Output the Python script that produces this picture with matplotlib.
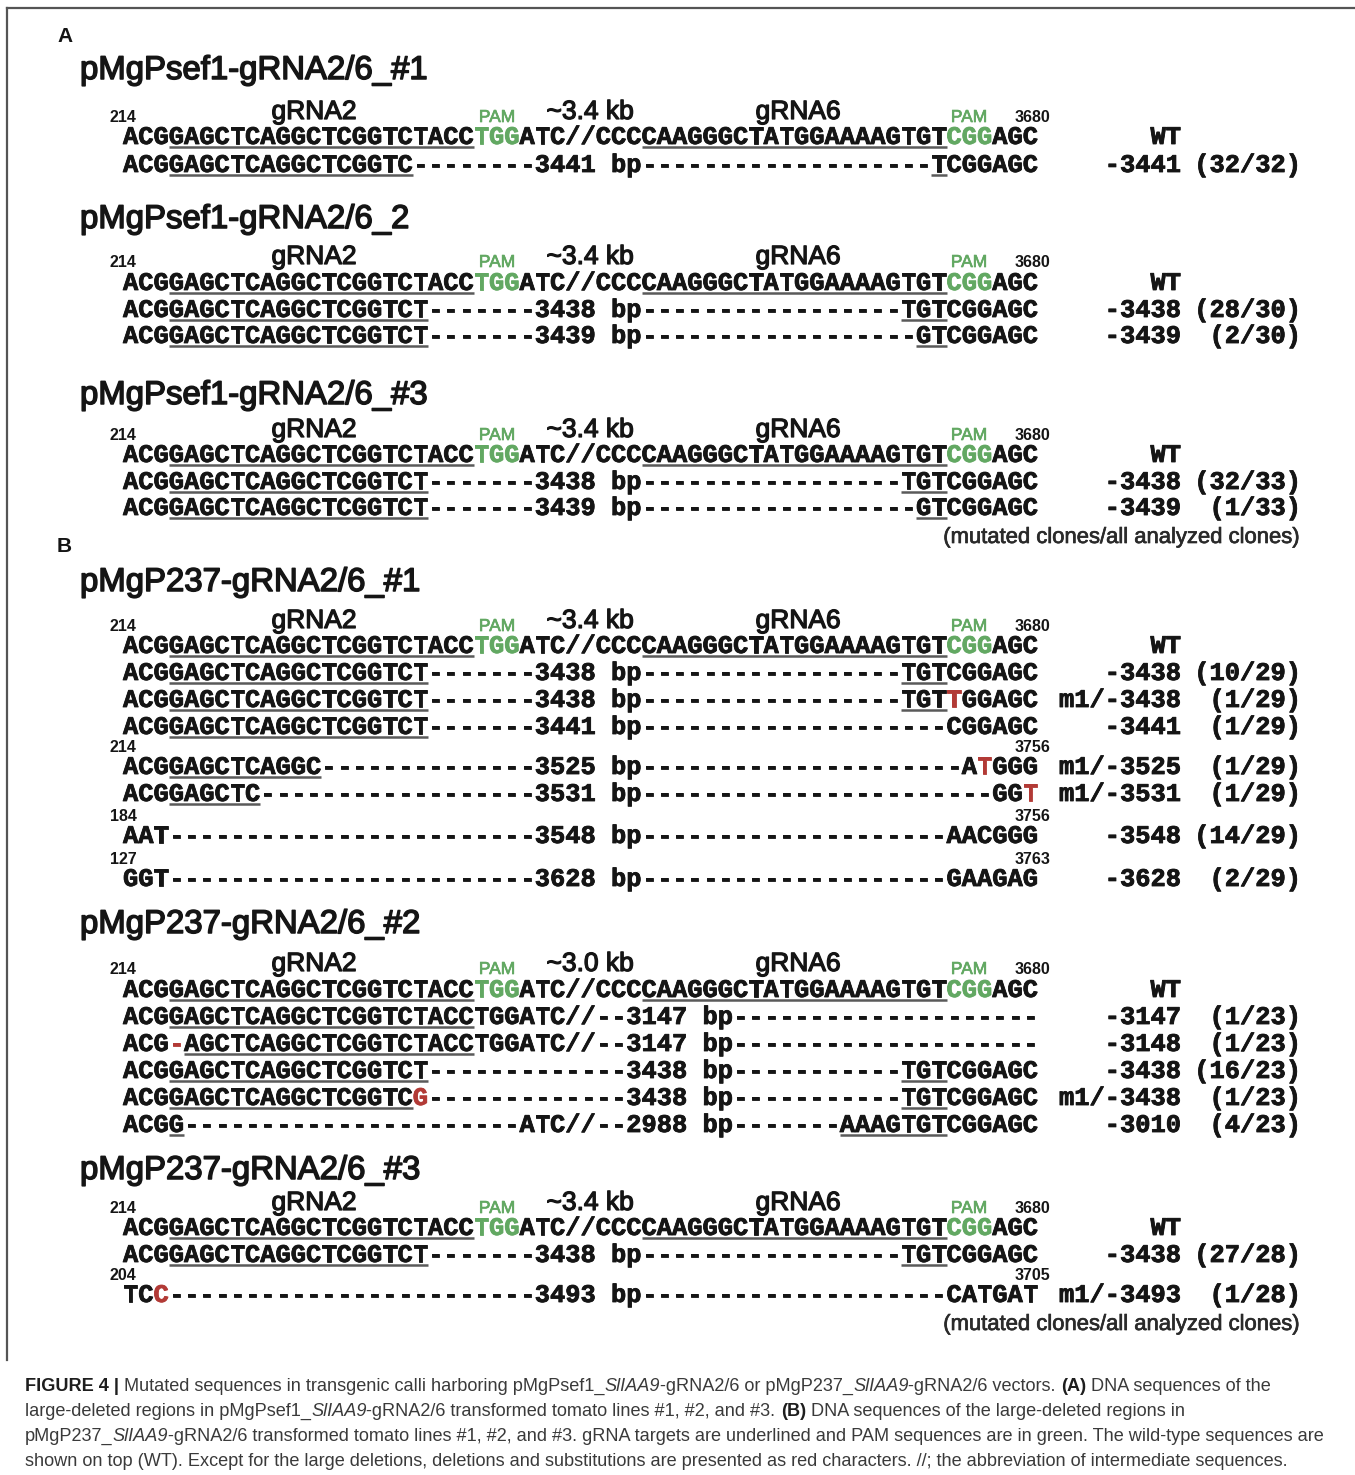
import matplotlib
matplotlib.use("Agg")
import matplotlib.pyplot as plt
import matplotlib.patheffects as pe
from matplotlib.font_manager import FontProperties, fontManager

# ---- sequences -------------------------------------------------------------
WT_SEQ = "ACGGAGCTCAGGCTCGGTCTACCTGGATC//CCCCAAGGGCTATGGAAAAGTGTCGGAGC"
WT_GREEN = [23, 24, 25, 54, 55, 56]
WT_UNDER = [(3, 23), (34, 54)]

DEL_3438 = "ACGGAGCTCAGGCTCGGTCT" + "-" * 7 + "3438 bp" + "-" * 17 + "TGTCGGAGC"
DEL_3439 = "ACGGAGCTCAGGCTCGGTCT" + "-" * 7 + "3439 bp" + "-" * 18 + "GTCGGAGC"

# each row: sequence, red positions, underlined ranges, label, clone ratio
A1_ROWS = [
    ("ACGGAGCTCAGGCTCGGTC" + "-" * 8 + "3441 bp" + "-" * 19 + "TCGGAGC", [], [(3, 19), (53, 54)], "-3441", "(32/32)"),
]
A2_ROWS = [
    (DEL_3438, [], [(3, 20), (51, 54)], "-3438", "(28/30)"),
    (DEL_3439, [], [(3, 20), (52, 54)], "-3439", "(2/30)"),
]
A3_ROWS = [
    (DEL_3438, [], [(3, 20), (51, 54)], "-3438", "(32/33)"),
    (DEL_3439, [], [(3, 20), (52, 54)], "-3439", "(1/33)"),
]
B1_ROWS = [
    (DEL_3438, [], [(3, 20), (51, 54)], "-3438", "(10/29)"),
    ("ACGGAGCTCAGGCTCGGTCT" + "-" * 7 + "3438 bp" + "-" * 17 + "TGTTGGAGC", [54], [(3, 20), (51, 54)], "m1/-3438", "(1/29)"),
    ("ACGGAGCTCAGGCTCGGTCT" + "-" * 7 + "3441 bp" + "-" * 20 + "CGGAGC", [], [(3, 20)], "-3441", "(1/29)"),
    ("ACGGAGCTCAGGC" + "-" * 14 + "3525 bp" + "-" * 21 + "ATGGG", [56], [(3, 13)], "m1/-3525", "(1/29)"),
    ("ACGGAGCTC" + "-" * 18 + "3531 bp" + "-" * 23 + "GGT", [59], [(3, 9)], "m1/-3531", "(1/29)"),
    ("AAT" + "-" * 24 + "3548 bp" + "-" * 20 + "AACGGG", [], [], "-3548", "(14/29)"),
    ("GGT" + "-" * 24 + "3628 bp" + "-" * 20 + "GAAGAG", [], [], "-3628", "(2/29)"),
]
B2_ROWS = [
    ("ACGGAGCTCAGGCTCGGTCTACCTGGATC//" + "--" + "3147 bp" + "-" * 20, [], [(3, 23)], "-3147", "(1/23)"),
    ("ACG-AGCTCAGGCTCGGTCTACCTGGATC//" + "--" + "3147 bp" + "-" * 20, [3], [(4, 23)], "-3148", "(1/23)"),
    ("ACGGAGCTCAGGCTCGGTCT" + "-" * 13 + "3438 bp" + "-" * 11 + "TGTCGGAGC", [], [(3, 20), (51, 54)], "-3438", "(16/23)"),
    ("ACGGAGCTCAGGCTCGGTCG" + "-" * 13 + "3438 bp" + "-" * 11 + "TGTCGGAGC", [19], [(3, 19), (51, 54)], "m1/-3438", "(1/23)"),
    ("ACGG" + "-" * 22 + "ATC//--2988 bp" + "-" * 7 + "AAAGTGTCGGAGC", [], [(3, 4), (47, 54)], "-3010", "(4/23)"),
]
B3_ROWS = [
    (DEL_3438, [], [(3, 20), (51, 54)], "-3438", "(27/28)"),
    ("TCC" + "-" * 24 + "3493 bp" + "-" * 20 + "CATGAT", [2], [], "m1/-3493", "(1/28)"),
]

# position numbers printed above some rows: (row index, left number, right number)
B1_POS = [(3, "214", "3756"), (5, "184", "3756"), (6, "127", "3763")]
B3_POS = [(1, "204", "3705")]

TITLES = ["pMgPsef1-gRNA2/6_#1", "pMgPsef1-gRNA2/6_2", "pMgPsef1-gRNA2/6_#3",
          "pMgP237-gRNA2/6_#1", "pMgP237-gRNA2/6_#2", "pMgP237-gRNA2/6_#3"]
SPANS = ["~3.4 kb", "~3.4 kb", "~3.4 kb", "~3.4 kb", "~3.0 kb", "~3.4 kb"]
ROWS = [A1_ROWS, A2_ROWS, A3_ROWS, B1_ROWS, B2_ROWS, B3_ROWS]
POS = [[], [], [], B1_POS, [], B3_POS]

# vertical layout (pixel centres): title, header, wild type, mutant rows
TITLE_Y = [68, 217, 393, 580, 922, 1168]
HEAD_Y = [110, 255, 428, 619, 962, 1201]
WT_Y = [137, 283, 455, 646, 990, 1228]
ROW_Y = [[165], [310, 336], [482, 508],
         [673, 700, 727, 767, 794, 836, 879],
         [1017, 1044, 1071, 1098, 1125],
         [1255, 1295]]

CAPTION = [
    [("FIGURE 4 |", "b"), (" Mutated sequences in transgenic calli harboring pMgPsef1_", "r"), ("SlIAA9", "i"),
     ("-gRNA2/6 or pMgP237_", "r"), ("SlIAA9", "i"), ("-gRNA2/6 vectors. ", "r"), ("(A)", "b"),
     (" DNA sequences of the", "r")],
    [("large-deleted regions in pMgPsef1_", "r"), ("SlIAA9", "i"),
     ("-gRNA2/6 transformed tomato lines #1, #2, and #3. ", "r"), ("(B)", "b"),
     (" DNA sequences of the large-deleted regions in", "r")],
    [("pMgP237_", "r"), ("SlIAA9", "i"),
     ("-gRNA2/6 transformed tomato lines #1, #2, and #3. gRNA targets are underlined and PAM sequences are in green. The wild-type sequences are", "r")],
    [("shown on top (WT). Except for the large deletions, deletions and substitutions are presented as red characters. //; the abbreviation of intermediate sequences.", "r")],
]
NOTE = "(mutated clones/all analyzed clones)"

# ---- style -------------------------------------------------------------------
INK = "#151515"
GREEN = "#62a862"
RED = "#b23a36"
ULINE = "#5a5a5a"
CAP_INK = "#3a3a3a"
X0 = 123.0          # left edge of the sequence column
CW = 15.25          # character pitch of the sequence font
SANS = "Liberation Sans"
MONO = FontProperties(family="Liberation Mono", weight="bold", size=18.3)


def heavy(color, w=0.8):
    return [pe.withStroke(linewidth=w, foreground=color)]


fig = plt.figure(figsize=(13.55, 14.75), dpi=100)
ax = fig.add_axes([0, 0, 1, 1])
ax.set_xlim(0, 1355)
ax.set_ylim(1475, 0)
ax.axis("off")
renderer = fig.canvas.get_renderer()


def width_of(s, prop):
    t = ax.text(0, 0, "|" + s + "|", fontproperties=prop)
    w1 = t.get_window_extent(renderer).width
    t.remove()
    t = ax.text(0, 0, "||", fontproperties=prop)
    w2 = t.get_window_extent(renderer).width
    t.remove()
    return w1 - w2


def seq_row(y, seq, red=(), green=(), under=()):
    base = y + 7
    for i, ch in enumerate(seq):
        col = RED if i in red else GREEN if i in green else INK
        ax.text(X0 + (i + 0.5) * CW, base, ch, ha="center", va="baseline",
                color=col, fontproperties=MONO, path_effects=heavy(col, 0.6))
    for a, b in under:
        ax.plot([X0 + a * CW, X0 + b * CW], [base + 3, base + 3], color=ULINE,
                lw=1.8, solid_capstyle="butt")


def side_labels(y, label, ratio):
    ax.text(1181, y + 7, label, ha="right", va="baseline", color=INK,
            fontproperties=MONO, path_effects=heavy(INK, 0.6))
    if ratio:
        ax.text(1301, y + 7, ratio, ha="right", va="baseline", color=INK,
                fontproperties=MONO, path_effects=heavy(INK, 0.6))


# frame lines
ax.plot([7, 1355], [8, 8], color="#555555", lw=1.6)
ax.plot([7, 7], [8, 1360], color="#555555", lw=1.6)

# panel letters
ax.text(57, 42, "A", fontsize=15, fontweight="bold", family=SANS, color=INK, va="baseline")
ax.text(57, 552, "B", fontsize=15, fontweight="bold", family=SANS, color=INK, va="baseline")

for k in range(6):
    ax.text(80, TITLE_Y[k] + 11, TITLES[k], fontsize=23.7, family=SANS, color=INK,
            va="baseline", path_effects=heavy(INK, 1.1))
    hb = HEAD_Y[k] + 9
    for x, s in [(314, "gRNA2"), (590, SPANS[k]), (798, "gRNA6")]:
        ax.text(x, hb, s, fontsize=19, family=SANS, color=INK, ha="center",
                va="baseline", path_effects=heavy(INK, 0.9))
    sb = HEAD_Y[k] + 12
    ax.text(497, sb, "PAM", fontsize=12.5, family=SANS, color=GREEN, ha="center",
            va="baseline", path_effects=heavy(GREEN, 0.5))
    ax.text(969, sb, "PAM", fontsize=12.5, family=SANS, color=GREEN, ha="center",
            va="baseline", path_effects=heavy(GREEN, 0.5))
    ax.text(110, sb, "214", fontsize=11.5, fontweight="bold", family=SANS, color=INK, va="baseline")
    ax.text(1050, sb, "3680", fontsize=11.5, fontweight="bold", family=SANS, color=INK,
            ha="right", va="baseline")

    seq_row(WT_Y[k], WT_SEQ, green=WT_GREEN, under=WT_UNDER)
    side_labels(WT_Y[k], "WT", "")
    for (seq, red, under, label, ratio), y in zip(ROWS[k], ROW_Y[k]):
        seq_row(y, seq, red=red, under=under)
        side_labels(y, label, ratio)
    for idx, left, right in POS[k]:
        yb = ROW_Y[k][idx] - 20 + 5
        ax.text(110, yb, left, fontsize=11.5, fontweight="bold", family=SANS, color=INK, va="baseline")
        ax.text(1050, yb, right, fontsize=11.5, fontweight="bold", family=SANS, color=INK,
                ha="right", va="baseline")

# footnotes under panels A and B
note_prop = FontProperties(family=SANS, size=18)
nsize = 18 * 356 / width_of(NOTE, note_prop)
for y in (535, 1322):
    ax.text(1298, y + 8, NOTE, fontsize=nsize, family=SANS, color="#2a2a2a",
            ha="right", va="baseline", path_effects=heavy("#2a2a2a", 0.5))

# caption
names = {f.name for f in fontManager.ttflist}
cap_family = "Liberation Sans Narrow" if "Liberation Sans Narrow" in names else SANS


def cap_prop(style, size):
    return FontProperties(family=cap_family, size=size,
                          weight="bold" if style == "b" else "normal",
                          style="italic" if style == "i" else "normal")


ref = sum(width_of(s, cap_prop(st, 10)) for s, st in CAPTION[2])
csize = 10 * 1303 / ref
for line, yb in zip(CAPTION, [1391, 1416, 1441, 1466]):
    x = 25
    for s, st in line:
        prop = cap_prop(st, csize)
        ax.text(x, yb, s, fontproperties=prop, color="#1e1e1e" if st == "b" else CAP_INK, va="baseline")
        x += width_of(s, prop)

fig.savefig("out.png", dpi=100)
